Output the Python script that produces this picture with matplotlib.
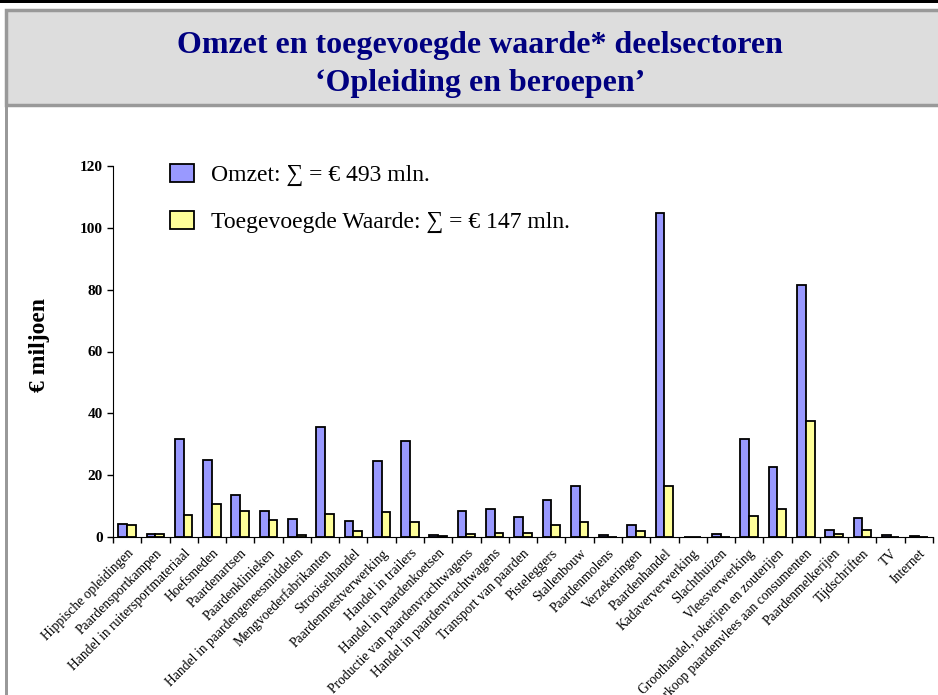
import matplotlib
matplotlib.use("Agg")
import matplotlib.pyplot as plt
from matplotlib.patches import Rectangle
import numpy as np

plt.rcParams['font.family'] = ['Liberation Serif', 'DejaVu Serif']

# deelsectoren
categorieen = ['Hippische opleidingen', 'Paardensportkampen', 'Handel in ruitersportmateriaal',
               'Hoefsmeden', 'Paardenartsen', 'Paardenklinieken',
               'Handel in paardengeneesmiddelen', 'Mengvoederfabrikanten', 'Strooiselhandel',
               'Paardenmestverwerking', 'Handel in trailers', 'Handel in paardenkoetsen',
               'Productie van paardenvrachtwagens', 'Handel in paardenvrachtwagens',
               'Transport van paarden', 'Pisteleggers', 'Stallenbouw', 'Paardenmolens',
               'Verzekeringen', 'Paardenhandel', 'Kadaververwerking', 'Slachthuizen',
               'Vleesverwerking', 'Groothandel, rokerijen en zouterijen',
               'Verkoop paardenvlees aan consumenten', 'Paardenmelkerijen', 'Tijdschriften',
               'TV', 'Internet']
# omzet (mln euro)
omzet = [4.2, 1.0, 31.8, 25.0, 13.7, 8.3, 5.9, 35.7, 5.1, 24.6, 31.2, 0.5, 8.3, 9.1,
         6.6, 12.0, 16.4, 0.5, 3.8, 104.9, 0.1, 1.0, 31.8, 22.7, 81.4, 2.3, 6.3, 0.5, 0.2]
# toegevoegde waarde (mln euro)
tw = [3.8, 1.0, 7.1, 10.8, 8.3, 5.4, 0.5, 7.6, 2.1, 8.0, 5.0, 0.2, 1.0, 1.3,
      1.3, 3.9, 5.0, 0.1, 1.8, 16.4, 0.1, 0.1, 6.7, 9.1, 37.4, 1.0, 2.3, 0.1, 0.1]
yticks = [0, 20, 40, 60, 80, 100, 120]

W, H = 938, 695
fig = plt.figure(figsize=(W/100, H/100), dpi=100)

def fx(x): return x / W
def fy(y): return 1 - y / H

# titelbalk en randen
fig.add_artist(Rectangle((fx(6), fy(105)), 1.1, (105 - 10) / H, transform=fig.transFigure,
                         facecolor='#dddddd', edgecolor='#999999', linewidth=2.5))
fig.add_artist(Rectangle((0, fy(3)), 1, 3 / H, transform=fig.transFigure,
                         facecolor='black', edgecolor='none'))
fig.add_artist(Rectangle((fx(5), 0), 3 / W, fy(105), transform=fig.transFigure,
                         facecolor='#999999', edgecolor='none'))
fig.text(fx(480), fy(45), 'Omzet en toegevoegde waarde* deelsectoren', ha='center', va='center',
         fontsize=23, fontweight='bold', color='#000080')
fig.text(fx(480), fy(83), '\u2018Opleiding en beroepen\u2019', ha='center', va='center',
         fontsize=23, fontweight='bold', color='#000080')

ax = fig.add_axes([fx(113), fy(537), fx(933) - fx(113), (537 - 166) / H])
x = np.arange(len(categorieen)) + 0.5
b = 0.31
b1 = ax.bar(x - b/2, omzet, b, color='#9999ff', edgecolor='black', linewidth=1.3)
b2 = ax.bar(x + b/2, tw, b, color='#ffff99', edgecolor='black', linewidth=1.3)

ax.set_xlim(0, len(categorieen))
ax.set_ylim(0, 120)
ax.set_yticks(yticks)
ax.set_yticklabels([str(v) for v in yticks], fontsize=11, fontweight='bold')
ax.set_xticks(np.arange(len(categorieen) + 1))
ax.set_xticklabels([])
ax.set_xticks(x, minor=True)
ax.set_xticklabels(categorieen, minor=True, rotation=45, ha='right', va='top',
                   rotation_mode='anchor', fontsize=9.8)
ax.tick_params(axis='x', which='minor', length=0, pad=7)
ax.tick_params(axis='both', which='major', length=4, width=1, direction='out')
for s in ['top', 'right']:
    ax.spines[s].set_visible(False)
ax.set_facecolor('none')

fig.text(fx(40), fy(345), '\u20ac miljoen', rotation=90, ha='center', va='center',
         fontsize=17, fontweight='bold')

ax.legend([b1, b2], ['Omzet: \u2211 = \u20ac 493 mln.', 'Toegevoegde Waarde: \u2211 = \u20ac 147 mln.'],
          loc='upper left', bbox_to_anchor=(fx(170), fy(164)), bbox_transform=fig.transFigure,
          frameon=False, fontsize=17, handlelength=1.0, handleheight=0.8, labelspacing=1.05,
          handletextpad=0.72, borderpad=0, borderaxespad=0)

fig.savefig('out.png', dpi=100)
